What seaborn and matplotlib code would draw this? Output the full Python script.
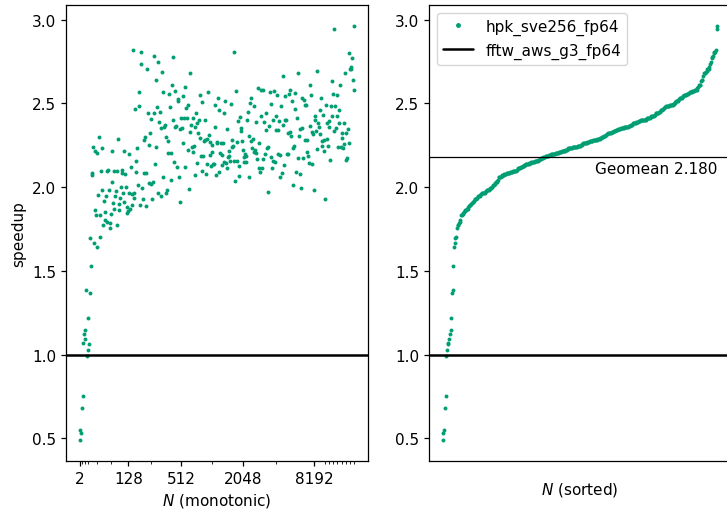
import numpy as np
import pandas as pd
import matplotlib
matplotlib.use("Agg")
import matplotlib.pyplot as plt
from matplotlib.lines import Line2D
import seaborn as sns

# speedup of hpk_sve256_fp64 over fftw_aws_g3_fp64, in monotonic order of N
speedup = [
    0.488, 0.550, 0.534, 0.681, 0.755, 1.070, 1.122, 1.092, 1.148, 1.383,
    0.990, 1.030, 1.218, 1.062, 1.369, 1.694, 1.529, 2.087, 2.073, 2.242,
    1.664, 1.866, 2.218, 1.834, 2.205, 1.640, 1.955, 2.302, 1.836, 1.700,
    2.095, 1.981, 2.234, 1.774, 1.917, 1.804, 1.852, 1.949, 1.790, 2.099,
    2.105, 1.985, 1.784, 1.756, 1.838, 2.213, 2.029, 1.903, 1.868, 2.095,
    1.949, 1.977, 1.772, 2.095, 2.288, 1.898, 1.862, 1.937, 2.003, 2.085,
    2.105, 1.967, 1.909, 2.218, 2.079, 2.003, 1.846,
    1.882, 1.858, 1.967, 2.195, 1.870, 2.119, 1.894, 1.957, 2.821, 1.935,
    1.965, 2.466, 2.159, 2.089, 2.236, 2.013, 2.567, 2.482, 1.896, 2.805,
    2.735, 1.995, 1.931, 2.087, 2.284, 2.298, 2.083, 1.888, 2.705, 2.442,
    2.025, 2.254, 2.326, 2.021, 2.408, 1.927, 2.031, 2.781, 2.442, 2.137,
    2.240, 2.639, 2.478, 1.963, 2.749, 2.390, 2.446, 1.945, 2.354, 2.685,
    2.567, 2.063, 2.360, 2.372, 2.302, 1.963, 1.983, 2.205, 2.276, 2.557,
    2.478, 2.043, 2.203, 2.609, 2.775, 2.398,
    2.153, 2.358, 2.575, 2.366, 2.121, 2.514, 2.528, 2.059, 2.348, 1.913,
    2.414, 2.354, 2.545, 2.264, 2.414, 2.601, 2.123, 2.470, 2.414, 2.220,
    2.488, 1.987, 2.332, 2.679, 2.370, 2.240, 2.410, 2.207, 2.244, 2.073,
    2.358, 2.440, 2.143, 2.382, 2.324, 2.398, 2.292, 2.551, 2.187, 2.097,
    2.506, 2.187, 2.276, 2.402, 2.282, 2.081, 2.141, 2.288, 2.571, 2.310,
    2.189, 2.272, 2.127, 2.254, 2.209, 2.141, 2.137, 2.490, 2.358, 2.075,
    2.264, 2.272, 2.532, 2.091, 2.460, 2.205, 2.264, 2.131, 2.189,
    2.266, 2.440, 2.149, 2.516, 2.143, 2.348, 2.117, 2.179, 2.213, 2.185,
    2.159, 2.494, 2.284, 2.238, 2.246, 2.159, 2.805, 2.039, 2.575, 2.272,
    2.155, 2.396, 2.069, 2.127, 2.416, 2.334, 2.356, 2.274, 2.222, 2.149,
    2.177, 2.197, 2.185, 2.149, 2.402, 2.446, 2.308, 2.059, 2.500, 2.276,
    2.532, 2.236, 2.290, 2.211, 2.482, 2.220, 2.386, 2.201, 2.167, 2.593,
    2.113, 2.262, 2.091, 2.422, 2.583, 2.113, 2.581, 2.169, 2.388, 2.199,
    2.442, 2.342, 2.232, 1.971, 2.240, 2.364, 2.567, 2.177,
    2.496, 2.117, 2.159, 2.398, 2.573, 2.149, 2.344, 2.426, 2.553, 2.344,
    2.197, 2.396, 2.189, 2.059, 2.482, 2.085, 2.661, 2.372, 2.135, 2.398,
    2.547, 2.398, 2.197, 2.197, 2.326, 2.559, 2.330, 2.583, 2.308, 2.512,
    2.236, 2.011, 2.248, 2.464, 2.565, 2.093, 2.414, 2.171, 2.683, 2.304,
    2.079, 2.348, 1.993, 2.530, 2.352, 2.175, 2.520, 2.490, 2.282, 2.492,
    2.209, 2.284, 2.183, 2.143, 2.364, 2.609, 2.551, 2.141, 2.330, 2.316,
    1.983, 2.402, 2.422, 2.338, 2.228, 2.693, 2.382,
    2.362, 2.320, 2.462, 2.533, 2.244, 2.274, 2.428, 2.280, 2.215, 1.927,
    2.488, 2.286, 2.384, 2.244, 2.396, 2.362, 2.161, 2.484, 2.633, 2.426,
    2.557, 2.334, 2.942, 2.484, 2.356, 2.553, 2.426, 2.240, 2.462, 2.384,
    2.611, 2.242, 2.326, 2.294, 2.234, 2.258, 2.384, 2.683, 2.326, 2.165,
    2.171, 2.348, 2.262, 2.801, 2.707, 2.717, 2.703, 2.773, 2.637, 2.964,
    2.581,
]

series_name = "hpk_sve256_fp64"
baseline_name = "fftw_aws_g3_fp64"
baseline = 1.0
geomean = 2.180

# positions (in the monotonic N ordering) where powers of two occur
major_tick_pos = [0, 68.5, 143, 230, 330.5]
major_tick_labels = ["2", "128", "512", "2048", "8192"]
minor_tick_pos = [3, 7, 12, 24, 43.5, 100, 186, 277,
                  345.5, 351.5, 356.5, 362.5, 369, 375, 381, 386]

green = "#029e73"

sns.set_style("ticks")
plt.rcParams.update({
    "font.family": ["DejaVu Sans"],
    "font.size": 11,
    "axes.edgecolor": "black",
    "axes.linewidth": 0.9,
    "text.color": "black",
    "axes.labelcolor": "black",
    "xtick.color": "black",
    "ytick.color": "black",
    "xtick.major.size": 3.5,
    "ytick.major.size": 3.5,
    "xtick.minor.size": 2.0,
    "xtick.major.width": 0.9,
    "ytick.major.width": 0.9,
    "xtick.labelsize": 11,
    "ytick.labelsize": 11,
    "axes.labelsize": 11,
})

fig = plt.figure(figsize=(7.27, 5.10), dpi=100)
W, H = 727.0, 510.0
ax1 = fig.add_axes([66 / W, 48 / H, 302 / W, 456 / H])
ax2 = fig.add_axes([429 / W, 48 / H, 302 / W, 456 / H])

df = pd.DataFrame({"idx": np.arange(len(speedup)), "speedup": speedup})
df_sorted = pd.DataFrame({"idx": np.arange(len(speedup)),
                          "speedup": np.sort(np.array(speedup))})

sns.scatterplot(data=df, x="idx", y="speedup", ax=ax1, color=green,
                s=8, linewidth=0, legend=False)
sns.scatterplot(data=df_sorted, x="idx", y="speedup", ax=ax2, color=green,
                s=8, linewidth=0, legend=False)

for ax in (ax1, ax2):
    ax.axhline(baseline, color="black", lw=1.8, zorder=3)
    for s in ax.spines.values():
        s.set_visible(True)

ax2.axhline(geomean, color="black", lw=0.9)
ax2.annotate(f"Geomean {geomean:.3f}", xy=(len(speedup) - 1, geomean),
             xytext=(0, -3), textcoords="offset points",
             ha="right", va="top", fontsize=11)

ax1.set_xticks(major_tick_pos)
ax1.set_xticklabels(major_tick_labels)
ax1.set_xticks(minor_tick_pos, minor=True)
ax1.set_xlabel("$N$ (monotonic)")
ax1.set_ylabel("speedup")

ax2.set_xticks([])
ax2.set_xlabel("$N$ (sorted)", labelpad=14)
ax2.set_ylabel("")

ylim = ax1.get_ylim()
ax2.set_ylim(ylim)
ax1.set_yticks([0.5, 1.0, 1.5, 2.0, 2.5, 3.0])
ax2.set_yticks([0.5, 1.0, 1.5, 2.0, 2.5, 3.0])

handles = [Line2D([], [], marker=".", ls="", color=green, ms=5),
           Line2D([], [], color="black", lw=1.8)]
ax2.legend(handles, [series_name, baseline_name], loc="upper left",
           fontsize=11, frameon=True)

fig.savefig("out.png", dpi=100)
